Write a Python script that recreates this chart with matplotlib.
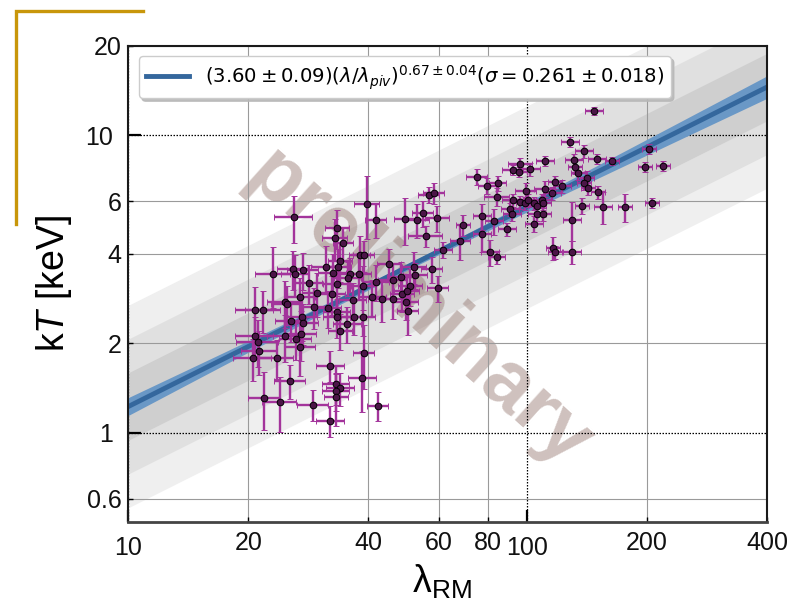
import numpy as np
import matplotlib
matplotlib.use("Agg")
import matplotlib.pyplot as plt
from matplotlib.ticker import FixedLocator, FuncFormatter
from matplotlib.lines import Line2D
from matplotlib.font_manager import FontProperties

plt.rcParams["font.family"] = ["Liberation Sans", "DejaVu Sans"]
plt.rcParams["mathtext.rm"] = "Liberation Sans"
plt.rcParams["mathtext.it"] = "Liberation Sans:italic"
plt.rcParams["mathtext.bf"] = "Liberation Sans:bold"

# Cluster richness and X-ray temperature
lam = np.array([
    128.3, 139.1, 150.0, 163.5, 111.0, 131.3, 96.1, 92.3, 95.5, 101.8,
    132.1, 134.4, 75.0, 79.4, 84.6, 84.1, 117.6, 122.5, 141.5, 139.1,
    142.3, 150.8, 99.5, 111.0, 115.6, 92.3, 96.1, 98.9, 104.2, 100.6,
    109.1, 106.0, 109.7, 90.7, 106.0, 109.7, 91.8, 155.2, 137.5, 176.2,
    129.8, 104.2, 89.2, 77.2, 82.7, 77.2, 69.1, 68.0, 61.6, 80.8,
    84.1, 116.3, 117.6, 129.8, 56.8, 58.5, 54.9, 53.0, 49.4, 59.5,
    55.8, 39.7, 41.8, 26.05, 33.4, 33.0, 34.6, 38.1, 39.0, 23.07,
    25.9, 27.4, 26.2, 31.3, 32.6, 34.0, 33.6, 36.0, 37.9, 35.6,
    28.4, 33.4, 38.8, 45.1, 52.1, 52.4, 57.8, 48.3, 50.9, 59.8,
    46.1, 41.8, 29.7, 32.4, 26.97, 24.7, 25.0, 36.6, 40.9, 43.3,
    46.1, 48.6, 50.0, 49.7, 50.3, 20.8, 21.8, 31.7, 33.4, 29.2,
    27.3, 25.6, 27.4, 33.4, 36.8, 38.8, 35.4, 34.0, 24.7, 26.3,
    27.1, 20.8, 21.2, 21.3, 27.0, 20.55, 23.6, 39.0, 32.1, 38.6,
    25.5, 33.2, 34.0, 33.2, 33.2, 21.9, 24.0, 29.1, 42.3, 32.1,
    147.4, 202.5, 197.9, 219.5, 205.9,
])
kT = np.array([
    9.48, 8.85, 8.31, 8.18, 8.18, 8.25, 8.00, 7.63, 7.52, 7.69,
    7.81, 7.46, 7.23, 6.75, 6.90, 6.19, 6.96, 6.75, 7.17, 6.90,
    6.64, 6.44, 6.49, 6.59, 6.39, 6.05, 5.96, 5.91, 5.91, 6.05,
    6.05, 5.78, 5.91, 5.65, 5.43, 5.43, 5.43, 5.73, 5.78, 5.73,
    5.18, 5.03, 4.84, 5.35, 5.14, 4.65, 4.99, 4.41, 4.11, 4.05,
    3.89, 4.17, 4.05, 4.05, 6.29, 6.39, 5.47, 5.18, 5.22, 5.27,
    4.58, 5.87, 5.18, 5.31, 4.87, 4.51, 4.34, 3.95, 3.95, 3.41,
    3.55, 3.52, 3.41, 3.60, 3.44, 3.78, 3.60, 3.41, 3.41, 3.31,
    3.18, 3.16, 3.11, 3.69, 3.60, 3.39, 3.55, 3.34, 3.11, 3.06,
    3.26, 3.21, 2.95, 2.92, 2.86, 2.75, 2.71, 2.79, 2.86, 2.81,
    2.81, 2.92, 2.99, 2.75, 2.56, 2.58, 2.58, 2.62, 2.54, 2.65,
    2.45, 2.37, 2.34, 2.45, 2.45, 2.45, 2.32, 2.20, 2.11, 2.06,
    2.15, 2.11, 2.02, 1.88, 1.94, 1.78, 1.78, 1.85, 1.68, 1.53,
    1.49, 1.46, 1.41, 1.38, 1.32, 1.31, 1.27, 1.24, 1.23, 1.095,
    12.05, 8.98, 7.81, 7.87, 5.91,
])
# fractional 1-sigma uncertainties
lam_err_frac = np.array([
    .05, .05, .05, .04, .05, .05, .07, .06, .05, .06,
    .04, .04, .06, .05, .05, .07, .04, .05, .04, .04,
    .04, .04, .06, .06, .05, .06, .06, .05, .06, .05,
    .05, .05, .05, .05, .05, .05, .05, .05, .04, .04,
    .05, .05, .05, .05, .05, .05, .04, .06, .05, .05,
    .05, .04, .04, .05, .06, .06, .06, .07, .06, .07,
    .10, .07, .06, .11, .07, .07, .06, .06, .06, .10,
    .09, .09, .08, .08, .08, .07, .08, .07, .07, .08,
    .08, .08, .07, .07, .07, .07, .06, .08, .07, .06,
    .08, .08, .08, .08, .09, .10, .09, .08, .08, .08,
    .07, .07, .07, .07, .06, .11, .10, .08, .08, .08,
    .09, .09, .09, .08, .07, .07, .08, .07, .10, .09,
    .09, .11, .12, .10, .09, .11, .10, .06, .08, .08,
    .09, .08, .08, .08, .07, .09, .10, .09, .06, .08,
    .05, .04, .04, .04, .04,
])
kT_err_frac = np.array([
    .04, .05, .04, .03, .04, .05, .05, .04, .04, .05,
    .05, .05, .06, .06, .06, .07, .05, .05, .06, .05,
    .05, .05, .06, .06, .05, .05, .05, .05, .05, .05,
    .05, .05, .05, .05, .05, .05, .05, .12, .06, .11,
    .15, .06, .05, .10, .10, .13, .08, .14, .06, .10,
    .05, .09, .05, .09, .06, .08, .10, .13, .18, .10,
    .08, .24, .13, .18, .15, .16, .12, .16, .12, .23,
    .15, .14, .16, .18, .16, .15, .15, .13, .18, .13,
    .15, .16, .17, .12, .12, .10, .10, .12, .14, .10,
    .14, .14, .17, .15, .16, .18, .15, .14, .14, .16,
    .14, .13, .12, .13, .17, .20, .16, .14, .13, .16,
    .17, .15, .16, .15, .13, .14, .14, .14, .18, .15,
    .19, .16, .18, .17, .20, .16, .15, .24, .12, .23,
    .13, .15, .13, .14, .20, .22, .21, .12, .11, .12,
    .03, .04, .04, .04, .04,
])

# Scaling-relation fit
fit_norm, fit_norm_err = 3.60, 0.09
fit_slope, fit_slope_err = 0.67, 0.04
fit_sigma, fit_sigma_err = 0.261, 0.018
lam_piv = 50.0

x_major = [10, 100]
x_minor = [20, 40, 60, 80, 200, 400]
y_major = [1, 10]
y_minor = [0.6, 2, 4, 6, 20]
xlim = (10, 400)
ylim = (0.5, 20)

fig = plt.figure(figsize=(7.98, 6.02), dpi=100)
ax = fig.add_axes([0.1608, 0.1324, 0.8004, 0.792])
ax.set_xscale("log")
ax.set_yscale("log")
ax.set_xlim(*xlim)
ax.set_ylim(*ylim)

grid_lam = np.logspace(np.log10(xlim[0]), np.log10(xlim[1]), 300)
model = fit_norm * (grid_lam / lam_piv) ** fit_slope

# intrinsic scatter bands (1, 2, 3 sigma)
for k, c in zip([3, 2, 1], ["#efefef", "#e0e0e0", "#cfcfcf"]):
    ax.fill_between(grid_lam, model * np.exp(-k * fit_sigma),
                    model * np.exp(k * fit_sigma), color=c, lw=0, zorder=0.6)

# parameter uncertainty band
dln = np.sqrt((fit_norm_err / fit_norm) ** 2 +
              (fit_slope_err * np.log(grid_lam / lam_piv)) ** 2)
ax.fill_between(grid_lam, model * np.exp(-dln), model * np.exp(dln),
                color="#6a98c6", lw=0, zorder=2)

fit_label = (r"$(3.60\pm0.09)(\lambda/\lambda_{piv})^{0.67\pm0.04}"
             r"(\sigma=0.261\pm0.018)$")
ax.plot(grid_lam, model, color="#34679d", lw=3.5, zorder=2.1, label=fit_label)

# watermark
ax.text(0.4536, 0.445, "preliminary", transform=ax.transAxes,
        rotation=-42, rotation_mode="anchor", ha="center", va="center",
        fontsize=58, fontweight="bold", family="Liberation Sans",
        color=(0.55, 0.42, 0.39), alpha=0.42, zorder=1.2)

ax.errorbar(lam, kT, xerr=lam * lam_err_frac, yerr=kT * kT_err_frac,
            fmt="o", ms=4.8, mfc="#4b1547", mec="black", mew=0.7,
            ecolor="#a3349b", elinewidth=1.7, capsize=2.5, capthick=1.6,
            zorder=3)

fmt = FuncFormatter(lambda v, p: f"{v:g}")
ax.xaxis.set_major_locator(FixedLocator(x_major))
ax.xaxis.set_minor_locator(FixedLocator(x_minor))
ax.yaxis.set_major_locator(FixedLocator(y_major))
ax.yaxis.set_minor_locator(FixedLocator(y_minor))
for axis in (ax.xaxis, ax.yaxis):
    axis.set_major_formatter(fmt)
    axis.set_minor_formatter(fmt)

ax.tick_params(which="both", direction="in", labelsize=18, labelcolor="#111111")
ax.tick_params(axis="x", which="major", length=9, width=1.6, pad=10)
ax.tick_params(axis="x", which="minor", length=3.5, width=1.0, pad=6)
ax.tick_params(axis="y", which="major", length=9, width=1.6, pad=11)
ax.tick_params(axis="y", which="minor", length=3.5, width=1.0, pad=5)

ax.set_axisbelow("line")
ax.grid(True, which="major", color="black", ls=(0, (1.2, 1.2)), lw=0.9)
ax.grid(True, which="minor", color="#9a9a9a", ls="-", lw=0.8)

for side in ("left", "top", "right"):
    ax.spines[side].set_linewidth(1.5)
    ax.spines[side].set_color("#1a1a1a")
ax.spines["bottom"].set_linewidth(2.0)
ax.spines["bottom"].set_color("#444444")

ax.set_xlabel(r"$\mathrm{\lambda}_{\mathrm{RM}}$", fontsize=27,
              math_fontfamily="custom")
ax.xaxis.set_label_coords(0.491, -0.085)
ax.set_ylabel(r"k$T$ [keV]", fontsize=27, math_fontfamily="custom")
ax.yaxis.set_label_coords(-0.085, 0.5)

leg = ax.legend(loc="upper left", bbox_to_anchor=(0, 1), borderaxespad=0.55,
                fancybox=True, shadow={"color": "0.72", "alpha": 0.9},
                framealpha=1, edgecolor="#cccccc", handlelength=2.2,
                borderpad=0.35, prop=FontProperties(family="DejaVu Sans", size=14.1))
leg.set_zorder(5)

# corner decoration
fig.add_artist(Line2D([15.6 / 798, 15.6 / 798, 143 / 798],
                      [1 - 224 / 602, 1 - 10.6 / 602, 1 - 10.6 / 602],
                      transform=fig.transFigure, color="#c8960a", lw=2.4,
                      solid_joinstyle="miter"))

fig.savefig("out.png", dpi=100)
